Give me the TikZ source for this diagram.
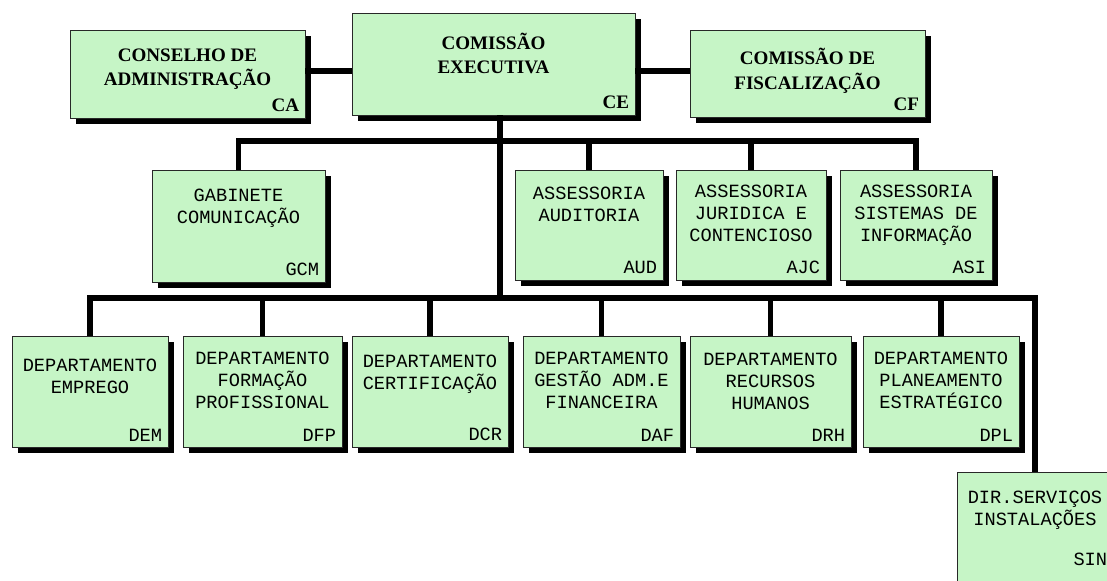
\documentclass[tikz,border=0pt]{standalone}
\usepackage{fontspec}
\setmainfont{Liberation Serif}
\newfontfamily\orgmono{Liberation Mono}
\usetikzlibrary{positioning,fit,shadows}
\definecolor{boxGreen}{RGB}{198,245,198}
\definecolor{edgeGray}{RGB}{40,40,40}

\begin{document}
\begin{tikzpicture}[x=0.75pt,y=-0.75pt,
  orgbox/.style={draw=edgeGray, line width=0.6pt, fill=boxGreen, inner sep=0pt,
    drop shadow={shadow xshift=4.5pt, shadow yshift=-4.5pt, fill=black, opacity=1}},
  headtxt/.style={font=\fontsize{14.3pt}{18.5pt}\selectfont\bfseries, align=center, inner sep=0pt},
  bodytxt/.style={font=\orgmono\fontsize{14pt}{16.5pt}\selectfont, align=center, inner sep=0pt},
  headcode/.style={font=\fontsize{14.3pt}{14pt}\selectfont\bfseries, anchor=south east, inner sep=4.5pt},
  bodycode/.style={font=\orgmono\fontsize{14pt}{14pt}\selectfont, anchor=south east, inner sep=4.5pt},
  wire/.style={line width=3.8pt}]
  \useasboundingbox (0,0) rectangle (1107,581);
  \clip (0,0) rectangle (1107,581);
  \fill[white] (0,0) rectangle (1107,581);

  % board level
  \node[orgbox, fit={(70,30) (305,118)}] (ca) {};
  \node[orgbox, fit={(352,13) (635,115)}] (ce) {};
  \node[orgbox, fit={(690,30) (925,117)}] (cf) {};
  \node[headtxt, below=14pt of ca.north] (ca-t) {CONSELHO DE\\ADMINISTRAÇÃO};
  \node[headtxt, below=15pt of ce.north] (ce-t) {COMISSÃO\\EXECUTIVA};
  \node[headtxt, below=14pt of cf.north] (cf-t) {COMISSÃO DE\\FISCALIZAÇÃO};
  \node[headcode] (ca-c) at (ca.south east) {CA};
  \node[headcode] (ce-c) at (ce.south east) {CE};
  \node[headcode] (cf-c) at (cf.south east) {CF};

  % staff offices
  \node[orgbox, fit={(152,170) (325,282)}] (gcm) {};
  \node[orgbox, fit={(515,170) (663,280)}] (aud) {};
  \node[orgbox, fit={(676,170) (826,280)}] (ajc) {};
  \node[orgbox, fit={(840,170) (992,280)}] (asi) {};
  \node[bodytxt, below=14pt of gcm.north] (gcm-t) {GABINETE\\COMUNICAÇÃO};
  \node[bodytxt, below=13pt of aud.north] (aud-t) {ASSESSORIA\\AUDITORIA};
  \node[bodytxt, below=11pt of ajc.north] (ajc-t) {ASSESSORIA\\JURIDICA E\\CONTENCIOSO};
  \node[bodytxt, below=11pt of asi.north] (asi-t) {ASSESSORIA\\SISTEMAS DE\\INFORMAÇÃO};
  \node[bodycode] (gcm-c) at (gcm.south east) {GCM};
  \node[bodycode] (aud-c) at (aud.south east) {AUD};
  \node[bodycode] (ajc-c) at (ajc.south east) {AJC};
  \node[bodycode] (asi-c) at (asi.south east) {ASI};

  % departments
  \node[orgbox, fit={(12,336) (168,447)}] (dem) {};
  \node[orgbox, fit={(183,336) (342,447)}] (dfp) {};
  \node[orgbox, fit={(352,336) (508,447)}] (dcr) {};
  \node[orgbox, fit={(523,336) (680,447)}] (daf) {};
  \node[orgbox, fit={(690,336) (851,447)}] (drh) {};
  \node[orgbox, fit={(863,336) (1019,447)}] (dpl) {};
  \node[orgbox, fit={(957,472) (1113,585)}] (sin) {};
  \node[bodytxt, below=17pt of dem.north] (dem-t) {DEPARTAMENTO\\EMPREGO};
  \node[bodytxt, below=12pt of dfp.north] (dfp-t) {DEPARTAMENTO\\FORMAÇÃO\\PROFISSIONAL};
  \node[bodytxt, below=14pt of dcr.north] (dcr-t) {DEPARTAMENTO\\CERTIFICAÇÃO};
  \node[bodytxt, below=12pt of daf.north] (daf-t) {DEPARTAMENTO\\GESTÃO ADM.E\\FINANCEIRA};
  \node[bodytxt, below=13pt of drh.north] (drh-t) {DEPARTAMENTO\\RECURSOS\\HUMANOS};
  \node[bodytxt, below=12pt of dpl.north] (dpl-t) {DEPARTAMENTO\\PLANEAMENTO\\ESTRATÉGICO};
  \node[bodytxt, below=14pt of sin.north] (sin-t) {DIR.SERVIÇOS\\INSTALAÇÕES};
  \node[bodycode] (dem-c) at (dem.south east) {DEM};
  \node[bodycode] (dfp-c) at (dfp.south east) {DFP};
  \node[bodycode] (dcr-c) at (dcr.south east) {DCR};
  \node[bodycode] (daf-c) at (daf.south east) {DAF};
  \node[bodycode] (drh-c) at (drh.south east) {DRH};
  \node[bodycode] (dpl-c) at (dpl.south east) {DPL};
  \node[bodycode, anchor=south east] (sin-c) at ([yshift=10pt]sin.south east) {SIN};

  % connectors
  \coordinate (toprail) at (500,71);
  \coordinate (rail1) at (500,141);
  \coordinate (rail2) at (500,298);
  \draw[wire] (ca.east |- toprail) -- (ce.west |- toprail);
  \draw[wire] (ce.east |- toprail) -- (cf.west |- toprail);
  \draw[wire] (ce.south -| toprail) -- (rail2);
  \draw[wire] (gcm.north) |- (rail1) -| (asi.north);
  \draw[wire] (aud.north) -- (aud.north |- rail1);
  \draw[wire] (ajc.north) -- (ajc.north |- rail1);
  \draw[wire] (dem.north) |- (rail2) -| (sin.north);
  \draw[wire] (dfp.north) -- (dfp.north |- rail2);
  \draw[wire] (dcr.north) -- (dcr.north |- rail2);
  \draw[wire] (daf.north) -- (daf.north |- rail2);
  \draw[wire] (drh.north) -- (drh.north |- rail2);
  \draw[wire] (dpl.north) -- (dpl.north |- rail2);
\end{tikzpicture}
\end{document}
